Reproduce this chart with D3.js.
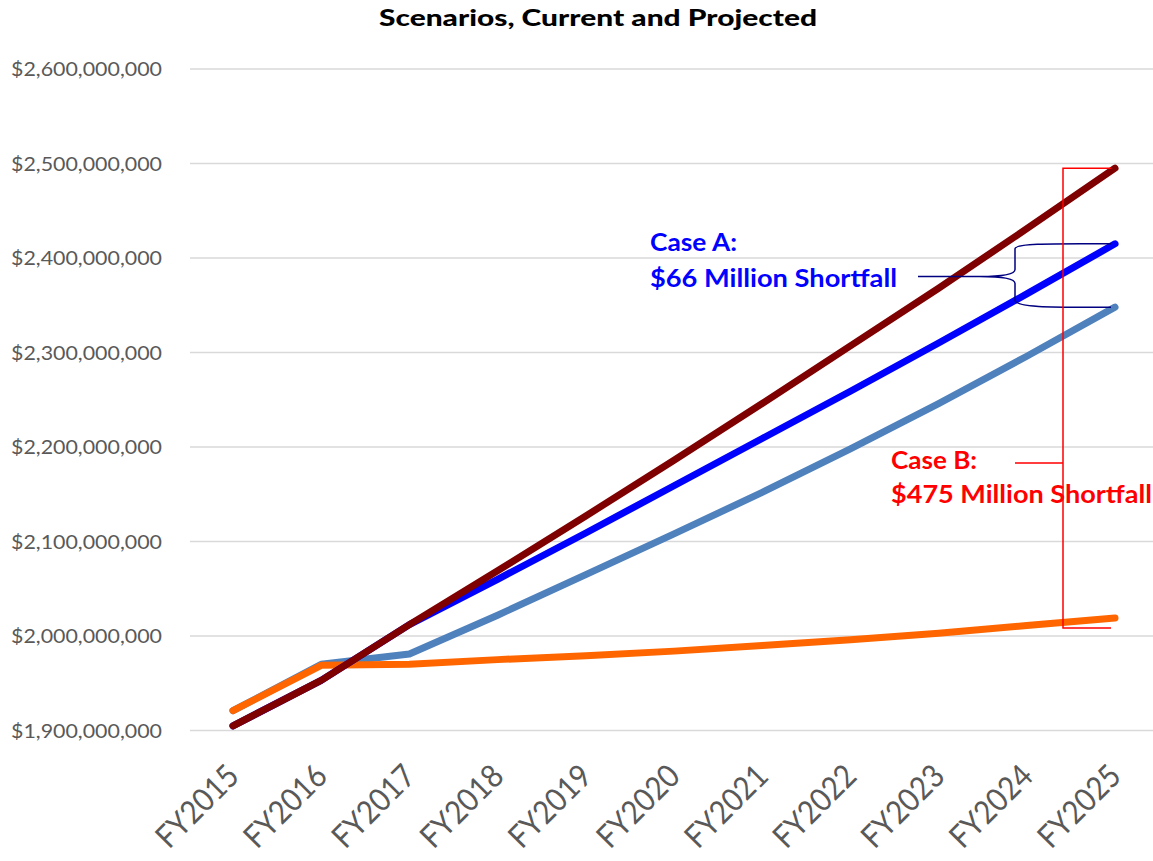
<!DOCTYPE html>
<html><head><meta charset="utf-8">
<script src="https://cdn.jsdelivr.net/npm/d3@7"></script>
<style>body{margin:0;background:#fff}svg{display:block}</style>
</head><body>
<svg id="c" width="1153" height="861"></svg>
<script>
const categories = ["FY2015","FY2016","FY2017","FY2018","FY2019","FY2020","FY2021","FY2022","FY2023","FY2024","FY2025"];
const yTicks = [1900000000,2000000000,2100000000,2200000000,2300000000,2400000000,2500000000,2600000000];
const currentValues   = [1921e6,1969e6,1970e6,1975e6,1979e6,1984e6,1990e6,1996e6,2003e6,2011e6,2019e6];
const caseALowValues  = [1921e6,1970e6,1981e6,2022e6,2065e6,2108e6,2152e6,2198e6,2246e6,2296e6,2348e6];
const caseAHighValues = [1905e6,1953e6,2012e6,2060e6,2109e6,2159e6,2209e6,2259e6,2310e6,2362e6,2415e6];
const caseBValues     = [1905e6,1953e6,2012e6,2069e6,2127e6,2186e6,2246e6,2307e6,2368e6,2431e6,2495e6];
// drawing order: Case A low, Current, Case A high, Case B
const seriesNames = ["Case A low","Current","Case A high","Case B"];
const seriesColors = ["#4F81BD","#FF6600","#0000FF","#7F0000"];
const seriesValues = [caseALowValues, currentValues, caseAHighValues, caseBValues];

const svg = d3.select("#c");
const x = d3.scalePoint().domain(categories).range([233,1115]);
const y = d3.scaleLinear().domain([1900000000,2600000000]).range([730.5,69]);

// title
svg.append("text").attr("x",598).attr("y",26).attr("text-anchor","middle")
  .attr("font-family","Lato, 'Open Sans', sans-serif").attr("font-weight","900")
  .attr("font-size",22).attr("fill","#000")
  .attr("textLength",438).attr("lengthAdjust","spacingAndGlyphs")
  .text("Scenarios, Current and Projected");

// grid
svg.append("g").selectAll("line").data(yTicks).join("line")
  .attr("x1",190).attr("x2",1153)
  .attr("y1",d=>y(d)).attr("y2",d=>y(d))
  .attr("stroke","#D9D9D9").attr("stroke-width",1.5);

// y labels
const fmt = d3.format("$,.0f");
svg.append("g").selectAll("text").data(yTicks).join("text")
  .attr("x",162).attr("y",d=>y(d)+7).attr("text-anchor","end")
  .attr("font-family","Lato, 'Open Sans', sans-serif").attr("font-size",20)
  .attr("fill","#595959")
  .attr("textLength",151).attr("lengthAdjust","spacingAndGlyphs")
  .text(d=>fmt(d));

// x labels
svg.append("g").selectAll("text").data(categories).join("text")
  .attr("transform",d=>`translate(${x(d)+8},${778}) rotate(-45)`)
  .attr("text-anchor","end")
  .attr("font-family","Lato, 'Open Sans', sans-serif").attr("font-size",32)
  .attr("fill","#595959")
  .attr("textLength",102).attr("lengthAdjust","spacingAndGlyphs")
  .text(d=>d);

// lines
const line = d3.line().x((d,i)=>x(categories[i])).y(d=>y(d));
svg.append("g").selectAll("path").data(seriesValues).join("path")
  .attr("d",d=>line(d)).attr("fill","none")
  .attr("stroke",(d,i)=>seriesColors[i]).attr("stroke-width",7)
  .attr("stroke-linecap","round").attr("stroke-linejoin","round");

// Case A brace
const last = categories[categories.length-1];
const xe = x(last)-4;
const yTop = y(caseAHighValues[10]), yBot = y(caseALowValues[10]);
const bx = 1015, tipX = 918, yMid = (yTop+yBot)/2 + 1;
const brace = d3.path();
brace.moveTo(xe, yTop);
brace.bezierCurveTo(1060, yTop, 1015, yTop-1, bx, yTop+5);
brace.lineTo(bx, yMid-7);
brace.bezierCurveTo(bx, yMid-2, 1000, yMid, 980, yMid);
brace.lineTo(tipX, yMid);
brace.moveTo(980, yMid);
brace.bezierCurveTo(1000, yMid, bx, yMid+2, bx, yMid+7);
brace.lineTo(bx, yBot-7);
brace.bezierCurveTo(bx, yBot+1, 1060, yBot, xe, yBot);
svg.append("path").attr("d",brace.toString()).attr("fill","none")
  .attr("stroke","#000080").attr("stroke-width",1.5);

// Case B bracket
const rx = 1063;
const ryTop = y(caseBValues[10]), ryBot = y(currentValues[10]) + 10;
svg.append("path")
  .attr("d",`M${xe},${ryTop} H${rx} V${ryBot} H${xe} M${rx},${463} H${1015}`)
  .attr("fill","none").attr("stroke","#FF0000").attr("stroke-width",1.5);

// annotation text
const ann = svg.append("g").attr("font-family","Lato, 'Open Sans', sans-serif")
  .attr("font-weight","bold").attr("font-size",24);
ann.append("text").attr("x",650).attr("y",251).attr("fill","#0000FF")
  .attr("textLength",87).attr("lengthAdjust","spacingAndGlyphs").text("Case A:");
ann.append("text").attr("x",650).attr("y",287).attr("fill","#0000FF")
  .attr("textLength",247).attr("lengthAdjust","spacingAndGlyphs").text("$66 Million Shortfall");
ann.append("text").attr("x",891).attr("y",469).attr("fill","#FF0000")
  .attr("textLength",86).attr("lengthAdjust","spacingAndGlyphs").text("Case B:");
ann.append("text").attr("x",891).attr("y",503).attr("fill","#FF0000")
  .attr("textLength",261).attr("lengthAdjust","spacingAndGlyphs").text("$475 Million Shortfall");
</script>
</body></html>
